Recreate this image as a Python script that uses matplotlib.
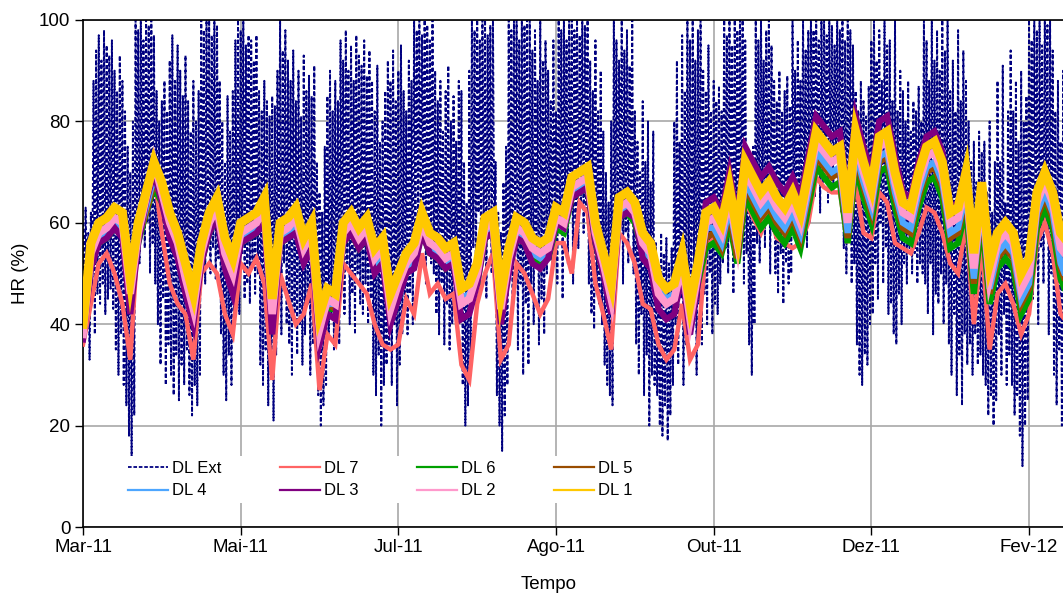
import numpy as np
import matplotlib
matplotlib.use('Agg')
from matplotlib import pyplot as plt
from matplotlib.lines import Line2D

plt.rcParams['font.family'] = ['Liberation Sans', 'DejaVu Sans']

# x axis: days since start, one tick every 60 days
tick_days = [0, 60, 120, 180, 240, 300, 360]
tick_labels = ['Mar-11', 'Mai-11', 'Jul-11', 'Ago-11', 'Out-11', 'Dez-11', 'Fev-12']

# outdoor logger: daily maximum / minimum relative humidity (%)
ext_max = [
    60, 63, 58, 62, 88, 94, 97, 92, 98, 95, 93, 96, 90, 86, 93, 88, 82, 75, 70, 80,
    100, 98, 100, 96, 100, 99, 100, 97, 86, 80, 84, 88, 82, 92, 97, 88, 95, 90, 85, 93,
    84, 78, 88, 80, 86, 100, 98, 100, 100, 97, 100, 99, 88, 80, 72, 85, 78, 86,
    96, 100, 98, 100, 95, 97, 96, 92, 97, 86, 82, 88, 84, 81, 85, 83, 90, 100, 94, 98,
    92, 88, 94, 84, 90, 81, 93, 86, 89, 85, 91, 72, 66, 62, 75, 85, 90, 82, 88, 84,
    96, 92, 98, 90, 95, 88, 97, 93, 91, 96, 89, 94, 88, 82, 91, 76, 80, 86,
    92, 88, 94, 84, 90, 95, 86, 82, 92, 88, 100, 98, 100, 97, 100, 99, 96, 100,
    90, 84, 88, 78, 86, 91, 80, 85, 76, 88, 86, 72, 64, 90,
    100, 98, 100, 96, 100, 100, 97, 99, 100, 72, 62, 58, 68, 75,
    100, 98, 100, 100, 96, 100, 99, 100, 100, 94, 98, 88, 100, 92, 96, 90, 84, 96, 82,
    100, 98, 100, 96, 100, 100, 98, 100, 97, 100, 99, 100, 92, 86, 96, 82, 90,
    78, 70, 64, 80, 100, 96, 92, 100, 94, 98, 91, 100, 82, 76, 70, 84, 72, 80, 68, 78,
    56, 52, 58, 54, 57, 52, 55, 80, 92, 76, 97, 86, 100, 96, 100, 92, 98, 100,
    90, 86, 95, 82, 88, 84, 87, 82, 100, 97, 100, 95, 100, 98, 100, 100, 96, 72, 68, 75,
    100, 96, 100, 92, 98, 100, 95, 88, 84, 90, 82, 86, 89, 83, 100, 90, 96, 88, 100, 94, 98,
    100, 98, 100, 96, 100, 100, 97, 100, 99, 95, 100, 98, 100, 96, 100, 98, 95,
    86, 82, 88, 84, 81, 87, 96, 100, 92, 98, 88, 100, 95, 96, 84, 100, 82, 90,
    86, 80, 88, 78, 84, 82, 87, 80, 100, 96, 88, 100, 92, 98, 90, 100, 94,
    100, 86, 92, 82, 98, 84, 94, 88, 80, 72, 76, 68, 78, 74, 76, 66, 80, 62, 72,
    88, 72, 91, 64, 82, 94, 82, 88, 76, 90, 80, 85,
    100, 96, 100, 98, 100, 95, 100, 99, 100, 94, 82, 88, 76, 90, 85,
]
ext_min = [
    48, 42, 33, 45, 38, 46, 44, 48, 42, 45, 47, 43, 35, 30, 38, 28, 24, 18, 14, 22,
    58, 52, 62, 55, 60, 50, 56, 48, 40, 32, 45, 28, 36, 30, 26, 34, 25, 32, 28, 35,
    26, 22, 28, 24, 30, 52, 48, 56, 50, 55, 49, 53, 38, 30, 25, 34, 28, 40,
    50, 42, 54, 45, 48, 44, 52, 46, 50, 32, 28, 35, 24, 30, 21, 34, 45, 38, 52, 40,
    36, 30, 42, 34, 40, 32, 38, 44, 30, 36, 41, 26, 20, 24, 28, 38, 42, 35, 40, 36,
    48, 42, 52, 40, 46, 38, 50, 44, 42, 48, 40, 45, 30, 26, 34, 20, 28, 32,
    36, 28, 40, 24, 32, 38, 42, 38, 46, 40, 58, 62, 55, 60, 48, 56, 52, 50,
    42, 38, 48, 36, 44, 35, 40, 46, 38, 42, 28, 20, 24, 32,
    55, 48, 62, 52, 58, 45, 60, 50, 56, 26, 20, 15, 22, 28,
    50, 42, 55, 35, 48, 30, 44, 32, 48, 40, 52, 36, 45, 38, 50, 55, 50, 60, 48,
    58, 45, 62, 52, 65, 48, 60, 55, 64, 58, 62, 48, 42, 39, 46, 44, 40,
    32, 28, 26, 24, 60, 55, 64, 48, 58, 52, 62, 50, 36, 30, 42, 26, 34, 20, 30, 28,
    26, 20, 18, 24, 17, 22, 28, 40, 32, 45, 28, 36, 48, 38, 52, 30, 44, 36,
    46, 40, 50, 38, 44, 42, 48, 52, 55, 50, 60, 46, 56, 52, 58, 48, 54, 36, 30, 40,
    56, 52, 62, 55, 60, 50, 58, 50, 46, 54, 44, 52, 48, 50, 60, 56, 64, 58, 62, 55, 60,
    70, 65, 74, 62, 68, 72, 64, 70, 66, 73, 68, 62, 55, 50, 58, 48, 52,
    36, 30, 28, 34, 32, 40, 42, 52, 45, 60, 48, 55, 42, 44, 38, 36, 46, 40,
    52, 48, 55, 50, 54, 48, 52, 50, 48, 42, 52, 38, 46, 44, 50, 40, 48,
    36, 30, 42, 26, 34, 24, 38, 32, 36, 30, 38, 32, 34, 30, 28, 22, 26, 20, 25,
    38, 30, 42, 28, 34, 28, 22, 26, 18, 12, 20, 25,
    52, 45, 58, 40, 55, 48, 60, 38, 50, 30, 24, 35, 20, 28, 18,
]

# indoor loggers, one value every 3 days (%)
STEP = 3
dl1 = [
    40, 56, 60, 61, 63, 62, 49, 60, 66, 72,
    68, 62, 58, 52, 46, 56, 62, 65, 57, 53,
    60, 61, 62, 65, 45, 60, 61, 63, 57, 60,
    42, 47, 46, 60, 62, 59, 61, 55, 57, 46,
    50, 54, 56, 62, 58, 57, 55, 56, 47, 48,
    52, 61, 62, 46, 55, 61, 60, 57, 56, 57,
    63, 62, 69, 70, 71, 60, 54, 48, 65, 66,
    64, 58, 56, 49, 47, 48, 54, 44, 52, 62,
    63, 60, 67, 58, 72, 69, 66, 68, 65, 63,
    66, 62, 70, 78, 76, 74, 75, 62, 78, 72,
    67, 77, 78, 70, 64, 63, 70, 75, 76, 72,
    62, 63, 70, 54, 68, 52, 58, 60, 58, 50,
    53, 66, 70, 66, 58, 56,
]
dl2 = [
    38, 54, 58, 59, 61, 60, 46, 58, 65, 72,
    66, 60, 56, 49, 43, 54, 60, 63, 54, 50,
    58, 59, 60, 63, 42, 58, 59, 61, 55, 58,
    39, 45, 44, 58, 60, 57, 59, 53, 55, 43,
    48, 52, 54, 60, 56, 55, 53, 54, 44, 45,
    50, 59, 60, 43, 53, 59, 58, 55, 54, 55,
    61, 60, 67, 68, 69, 58, 52, 45, 63, 64,
    62, 56, 54, 46, 44, 45, 52, 41, 50, 60,
    61, 58, 65, 56, 70, 67, 64, 66, 63, 61,
    64, 60, 68, 76, 74, 72, 73, 60, 76, 70,
    65, 75, 76, 68, 62, 61, 68, 73, 74, 70,
    60, 61, 68, 51, 66, 49, 56, 58, 56, 47,
    50, 64, 68, 64, 55, 53,
]
dl3 = [
    37, 51, 56, 57, 59, 57, 42, 56, 64, 70,
    64, 57, 53, 46, 40, 52, 58, 61, 51, 46,
    56, 57, 58, 60, 38, 56, 57, 58, 52, 55,
    36, 42, 41, 56, 58, 55, 57, 50, 52, 40,
    45, 50, 51, 58, 54, 53, 51, 52, 41, 42,
    48, 57, 58, 40, 50, 57, 56, 52, 51, 53,
    60, 59, 65, 66, 67, 56, 50, 42, 61, 62,
    61, 53, 51, 43, 41, 42, 50, 38, 48, 64,
    65, 62, 70, 61, 75, 72, 69, 71, 68, 66,
    69, 65, 73, 81, 79, 77, 78, 65, 81, 75,
    70, 80, 81, 73, 66, 65, 72, 77, 78, 74,
    63, 64, 71, 53, 68, 51, 58, 60, 58, 49,
    52, 65, 70, 65, 56, 54,
]
dl4 = [
    39, 53, 57, 58, 60, 59, 47, 57, 63, 69,
    65, 59, 55, 50, 44, 53, 59, 62, 54, 50,
    57, 58, 59, 62, 43, 57, 58, 60, 54, 57,
    40, 44, 44, 57, 59, 56, 58, 52, 54, 44,
    47, 51, 53, 59, 55, 54, 52, 53, 45, 46,
    49, 58, 59, 44, 52, 58, 57, 54, 53, 54,
    60, 59, 66, 67, 68, 57, 51, 46, 62, 63,
    61, 55, 53, 47, 45, 46, 51, 42, 49, 59,
    59, 56, 63, 55, 68, 65, 62, 64, 61, 59,
    62, 58, 66, 74, 72, 70, 71, 58, 74, 68,
    63, 73, 74, 66, 60, 59, 66, 71, 72, 68,
    58, 59, 66, 49, 64, 47, 54, 56, 54, 45,
    48, 62, 66, 62, 52, 48,
]
dl5 = [
    39, 52, 57, 58, 60, 58, 46, 57, 62, 68,
    65, 59, 55, 49, 44, 53, 59, 62, 54, 50,
    57, 58, 59, 62, 43, 57, 58, 60, 54, 57,
    40, 44, 43, 57, 59, 56, 58, 52, 54, 44,
    47, 51, 53, 59, 55, 54, 52, 53, 44, 45,
    49, 58, 59, 44, 52, 58, 57, 54, 53, 54,
    60, 59, 65, 67, 67, 57, 51, 45, 62, 63,
    61, 55, 53, 46, 44, 45, 51, 42, 49, 57,
    58, 55, 62, 53, 67, 64, 61, 63, 60, 58,
    61, 57, 65, 73, 71, 69, 70, 57, 73, 67,
    62, 72, 73, 65, 59, 58, 65, 70, 71, 67,
    57, 58, 65, 48, 63, 46, 53, 55, 53, 44,
    47, 61, 65, 61, 51, 47,
]
dl6 = [
    38, 52, 56, 57, 59, 58, 46, 56, 62, 67,
    64, 58, 54, 49, 43, 52, 58, 61, 53, 49,
    56, 57, 58, 61, 42, 56, 57, 59, 53, 56,
    39, 43, 43, 56, 58, 55, 57, 51, 53, 43,
    46, 50, 52, 58, 54, 53, 51, 52, 44, 45,
    48, 57, 58, 43, 51, 57, 56, 53, 52, 53,
    59, 58, 65, 66, 67, 56, 50, 45, 61, 62,
    60, 54, 52, 46, 44, 45, 50, 41, 48, 55,
    56, 54, 60, 52, 65, 62, 59, 61, 58, 56,
    59, 55, 63, 71, 69, 67, 68, 56, 71, 65,
    60, 70, 71, 63, 57, 56, 63, 68, 69, 65,
    55, 56, 63, 46, 61, 44, 51, 53, 51, 42,
    45, 59, 63, 59, 49, 45,
]
dl7 = [
    36, 44, 52, 54, 50, 44, 33, 58, 66, 70,
    58, 48, 44, 42, 33, 50, 52, 50, 42, 38,
    52, 50, 53, 48, 29, 50, 45, 40, 42, 48,
    27, 38, 36, 52, 50, 48, 46, 40, 36, 35,
    36, 45, 42, 54, 46, 48, 45, 46, 32, 29,
    44, 50, 54, 33, 36, 52, 50, 46, 42, 45,
    56, 56, 50, 64, 62, 48, 42, 35, 58, 56,
    52, 44, 43, 36, 33, 35, 44, 33, 36, 55,
    57, 55, 60, 54, 64, 61, 58, 62, 57, 56,
    55, 56, 60, 69, 67, 66, 66, 56, 68, 58,
    57, 66, 64, 56, 55, 54, 58, 63, 62, 58,
    52, 50, 60, 40, 56, 35, 46, 48, 44, 38,
    42, 56, 60, 54, 42, 40,
]

# name, values, colour, drawn width (the daily swing makes wide bands)
indoor = [
    ('DL 7', dl7, '#ff6464', 3.2),
    ('DL 6', dl6, '#00a000', 4.5),
    ('DL 5', dl5, '#994c00', 4.5),
    ('DL 4', dl4, '#4da6ff', 4.5),
    ('DL 3', dl3, '#800080', 4.5),
    ('DL 2', dl2, '#ff99cc', 5.5),
    ('DL 1', dl1, '#ffc800', 6.5),
]
EXT_COLOR = '#000080'


def plot_hr():
    fig = plt.figure(figsize=(10.63, 5.96), dpi=100)
    # axes run past the right edge of the picture, like the cropped original
    ax = fig.add_axes([83 / 1063, 69 / 596, 998.6 / 1063, 507 / 596])

    # outdoor: max and min of each day, one after the other
    days = np.arange(len(ext_max))
    ext_x = np.column_stack([days, days + 0.5]).ravel()
    ext_y = np.column_stack([ext_max, ext_min]).ravel()
    ax.plot(ext_x, ext_y, color=EXT_COLOR, lw=1.4, linestyle=(0, (2, 1.2)), zorder=2)

    for name, values, color, width in indoor:
        x = np.arange(len(values)) * STEP
        ax.plot(x, values, color=color, lw=width, solid_joinstyle='miter', zorder=3)

    ax.set_xlim(0, 380)
    ax.set_ylim(0, 100)
    ax.set_xticks(tick_days)
    ax.set_xticklabels(tick_labels)
    ax.set_yticks(range(0, 101, 20))
    ax.tick_params(axis='both', direction='out', length=6, width=1, labelsize=13.5, pad=3)
    ax.grid(True, color='#a8a8a8', lw=1.2)
    ax.set_axisbelow(True)
    ax.spines['right'].set_visible(False)
    for side in ('left', 'bottom', 'top'):
        ax.spines[side].set_linewidth(1.2)

    ax.set_ylabel('HR (%)', fontsize=13.5)
    ax.yaxis.set_label_coords(-0.054, 0.5)
    ax.set_xlabel('Tempo', fontsize=13.5)
    ax.xaxis.set_label_coords(0.466, -0.097)

    # legend filled row by row: DL Ext, 7, 6, 5 / DL 4, 3, 2, 1
    handles = {'DL Ext': Line2D([], [], color=EXT_COLOR, lw=1.3, linestyle=(0, (2, 1)))}
    for name, values, color, width in indoor:
        handles[name] = Line2D([], [], color=color, lw=1.6)
    order = ['DL Ext', 'DL 4', 'DL 7', 'DL 3', 'DL 6', 'DL 2', 'DL 5', 'DL 1']
    leg = ax.legend([handles[k] for k in order], order, ncol=4, loc='lower left',
                    bbox_to_anchor=(0.032, 0.03), fontsize=12, frameon=True,
                    facecolor='white', edgecolor='none', framealpha=1, fancybox=False,
                    handlelength=2.4, handletextpad=0.25, columnspacing=3.5,
                    labelspacing=0.45, borderpad=0.3)
    leg.set_zorder(5)

    fig.savefig('out.png', dpi=100)
    plt.close(fig)


def main():
    plot_hr()


if __name__ == '__main__':
    main()
